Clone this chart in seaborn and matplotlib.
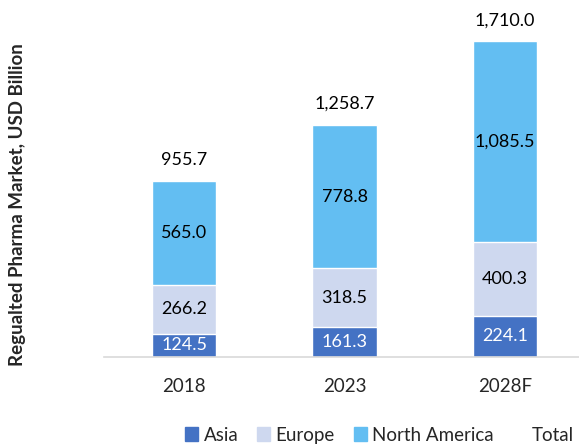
import matplotlib
matplotlib.use('Agg')
import matplotlib.pyplot as plt
import seaborn as sns
import pandas as pd
from matplotlib.patches import Patch

anos = ['2018', '2023', '2028F']
asia = [124.5, 161.3, 224.1]
europa = [266.2, 318.5, 400.3]
america_norte = [565.0, 778.8, 1085.5]
total = [955.7, 1258.7, 1710.0]

cor_asia = '#4472C4'
cor_europa = '#CED8EF'
cor_na = '#63BEF2'

sns.set_style('white')
plt.rcParams['font.family'] = ['Lato', 'DejaVu Sans']

df = pd.DataFrame({'ano': anos, 'asia': asia, 'europa': europa, 'na': america_norte, 'total': total})
df['ae'] = df['asia'] + df['europa']
df['topo'] = df['ae'] + df['na']

fig = plt.figure(figsize=(5.79, 4.44), dpi=100)
ax = fig.add_axes([0.18, 0.196, 0.83, 0.79])

# camadas empilhadas (desenhadas de cima para baixo)
sns.barplot(data=df, x='ano', y='topo', color=cor_na, width=0.4, saturation=1, ax=ax)
sns.barplot(data=df, x='ano', y='ae', color=cor_europa, width=0.4, saturation=1, ax=ax)
sns.barplot(data=df, x='ano', y='asia', color=cor_asia, width=0.4, saturation=1, ax=ax)

for i in range(len(anos)):
    ax.text(i, asia[i] / 2, f'{asia[i]:,.1f}', ha='center', va='center', color='white', fontsize=13)
    ax.text(i, asia[i] + europa[i] / 2, f'{europa[i]:,.1f}', ha='center', va='center', color='black', fontsize=13)
    ax.text(i, df['ae'][i] + america_norte[i] / 2, f'{america_norte[i]:,.1f}', ha='center', va='center', color='black', fontsize=13)
    ax.text(i, total[i] + 70, f'{total[i]:,.1f}', ha='center', va='bottom', color='black', fontsize=13)

ax.set_xlim(-0.5, 2.5)
ax.set_ylim(0, 1900)
ax.set_yticks([])
ax.set_xlabel('')
ax.set_ylabel('')
ax.tick_params(axis='x', length=0, labelsize=13.5, pad=15)
for s in ['top', 'right', 'left']:
    ax.spines[s].set_visible(False)
ax.spines['bottom'].set_color('#D9D9D9')
ax.spines['bottom'].set_linewidth(1.2)

fig.text(18 / 579, 1 - 205 / 444, 'Regualted Pharma Market, USD Billion', rotation=90,
         ha='center', va='center', fontsize=13.5, fontweight='bold')

handles = [Patch(color=cor_asia, label='Asia'),
           Patch(color=cor_europa, label='Europe'),
           Patch(color=cor_na, label='North America'),
           Patch(color='none', label='Total')]
fig.legend(handles=handles, loc='center', bbox_to_anchor=(0.655, 0.02), ncol=4, frameon=False,
           fontsize=13.5, handlelength=0.7, handleheight=0.7, handletextpad=0.3, columnspacing=1.0)

plt.savefig('out.png', dpi=100)
